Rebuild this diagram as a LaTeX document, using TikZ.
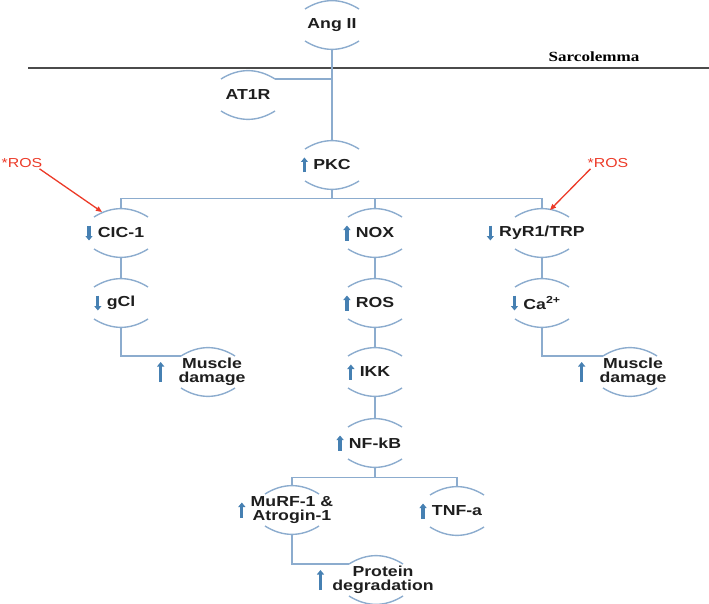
\documentclass[tikz,border=0pt]{standalone}
\usepackage{fontspec}
\setmainfont{Liberation Sans}[FakeStretch=1.22]
\newfontfamily\sarcofont{Liberation Serif}[FakeStretch=1.22]
\usetikzlibrary{arrows.meta, positioning}

\definecolor{linkblue}{RGB}{140,172,206}
\definecolor{markblue}{RGB}{70,128,178}
\definecolor{rosred}{RGB}{236,58,40}
\definecolor{txtgray}{RGB}{30,30,30}
\definecolor{membgray}{RGB}{75,75,75}

\newcommand{\uparr}{\tikz\draw[markblue, line width=3.2pt, -{Triangle[length=4.5pt,width=7pt]}] (0pt,0pt) -- (0pt,15pt);}
\newcommand{\dnarr}{\tikz\draw[markblue, line width=3.2pt, -{Triangle[length=4.5pt,width=7pt]}] (0pt,15pt) -- (0pt,0pt);}
\newcommand{\uparrtall}{\tikz\draw[markblue, line width=3.2pt, -{Triangle[length=4.5pt,width=7pt]}] (0pt,0pt) -- (0pt,20pt);}

\tikzset{
  sig/.style={font=\bfseries\fontsize{14.5}{14.5}\selectfont, text=txtgray,
    inner sep=0pt, minimum height=49pt, align=center},
  upm/.style={label={[inner sep=0pt, label distance=5pt]left:\uparr}},
  dnm/.style={label={[inner sep=0pt, label distance=5pt]left:\dnarr}},
  upmtall/.style={label={[inner sep=0pt, label distance=#1]left:\uparrtall}},
  link/.style={linkblue, line width=1.4pt},
  shell/.style={linkblue, line width=1.4pt},
  rostext/.style={font=\fontsize{13}{13}\selectfont, text=rosred, inner sep=0pt},
  rosarrow/.style={rosred, line width=1.3pt, -{Triangle[length=6pt,width=5pt]}},
}

\begin{document}
\begin{tikzpicture}[x=1pt, y=-1pt]
  \useasboundingbox (0,0) rectangle (709,604);

  % الغشاء
  \draw[membgray, line width=1.5pt] (28,68) -- (709,68);
  \node[font=\sarcofont\bfseries\fontsize{14}{14}\selectfont, inner sep=0pt] (sarc) at (594,57) {Sarcolemma};

  % العقد
  \node[sig] (ang) at (332,25) {Ang II};
  \node[sig] (at1r) at (248,95) {AT1R};
  \node[sig, upm] (pkc) at (332,165) {PKC};
  \node[sig, dnm] (cic) at (121,233) {CIC-1};
  \node[sig, upm] (nox) at (375,233) {NOX};
  \node[sig, dnm] (ryr) at (542,233) {RyR1/TRP};
  \node[sig, dnm] (gcl) at (121,303) {gCl};
  \node[sig, upm] (ros) at (375,303) {ROS};
  \node[sig, dnm] (ca) at (542,303) {Ca\textsuperscript{2+}};
  \node[sig, upmtall=14pt] (md1) at (212,372) {Muscle\\damage};
  \node[sig, upm] (ikk) at (375,372) {IKK};
  \node[sig, upmtall=14pt] (md2) at (633,372) {Muscle\\damage};
  \node[sig, upm] (nfkb) at (375,443) {NF-kB};
  \node[sig, upm] (murf) at (292,510) {MuRF-1 \&\\Atrogin-1};
  \node[sig, upm] (tnf) at (457,511) {TNF-a};
  \node[sig, upmtall=8pt] (prot) at (383,580) {Protein\\degradation};

  % الأقواس فوق كل عقدة وتحتها
  \foreach \n/\dx in {ang/0,at1r/0,pkc/0,cic/0,nox/0,ryr/0,gcl/0,ros/0,ca/0,md1/-4,ikk/0,md2/-3,nfkb/0,murf/0,tnf/0,prot/-7} {
    \draw[shell] ([xshift=\dx pt-27pt,yshift=16pt]\n.center) to[bend left=32] ([xshift=\dx pt+27pt,yshift=16pt]\n.center)
                 ([xshift=\dx pt-27pt,yshift=-16pt]\n.center) to[bend right=32] ([xshift=\dx pt+27pt,yshift=-16pt]\n.center);
  }

  % الوصلات
  \draw[link] (ang.south) -- (pkc.north);
  \coordinate (at1rend) at ([xshift=27pt,yshift=16pt]at1r.center);
  \draw[link] (at1rend) -- (ang.south |- at1rend);
  \coordinate (busa) at ([yshift=-9pt]pkc.south);
  \draw[link] (pkc.south) -- (busa);
  \draw[link] (cic.north) |- (busa) -| (ryr.north);
  \draw[link] (nox.north |- busa) -- (nox.north);
  \draw[link] (cic.south) -- (gcl.north);
  \draw[link] (gcl.south) |- ([xshift=-31pt,yshift=16pt]md1.center);
  \draw[link] (nox.south) -- (ros.north);
  \draw[link] (ros.south) -- (ikk.north);
  \draw[link] (ikk.south) -- (nfkb.north);
  \draw[link] (ryr.south) -- (ca.north);
  \draw[link] (ca.south) |- ([xshift=-30pt,yshift=16pt]md2.center);
  \coordinate (busb) at ([yshift=-10pt]nfkb.south);
  \draw[link] (nfkb.south) -- (busb);
  \draw[link] (murf.north) |- (busb) -| (tnf.north);
  \draw[link] (murf.south) |- ([xshift=-34pt,yshift=16pt]prot.center);

  % أسهم ROS الحمراء
  \node[rostext] (rosl) at (22,163) {*ROS};
  \node[rostext] (rosr) at (608,163) {*ROS};
  \coordinate (cichit) at ([xshift=-19pt,yshift=21pt]cic.center);
  \coordinate (ryrhit) at ([xshift=8pt,yshift=23pt]ryr.center);
  \draw[rosarrow] ([xshift=-3pt,yshift=-1pt]rosl.south east) -- (cichit);
  \draw[rosarrow] ([xshift=3pt,yshift=-1pt]rosr.south west) -- (ryrhit);
\end{tikzpicture}
\end{document}
